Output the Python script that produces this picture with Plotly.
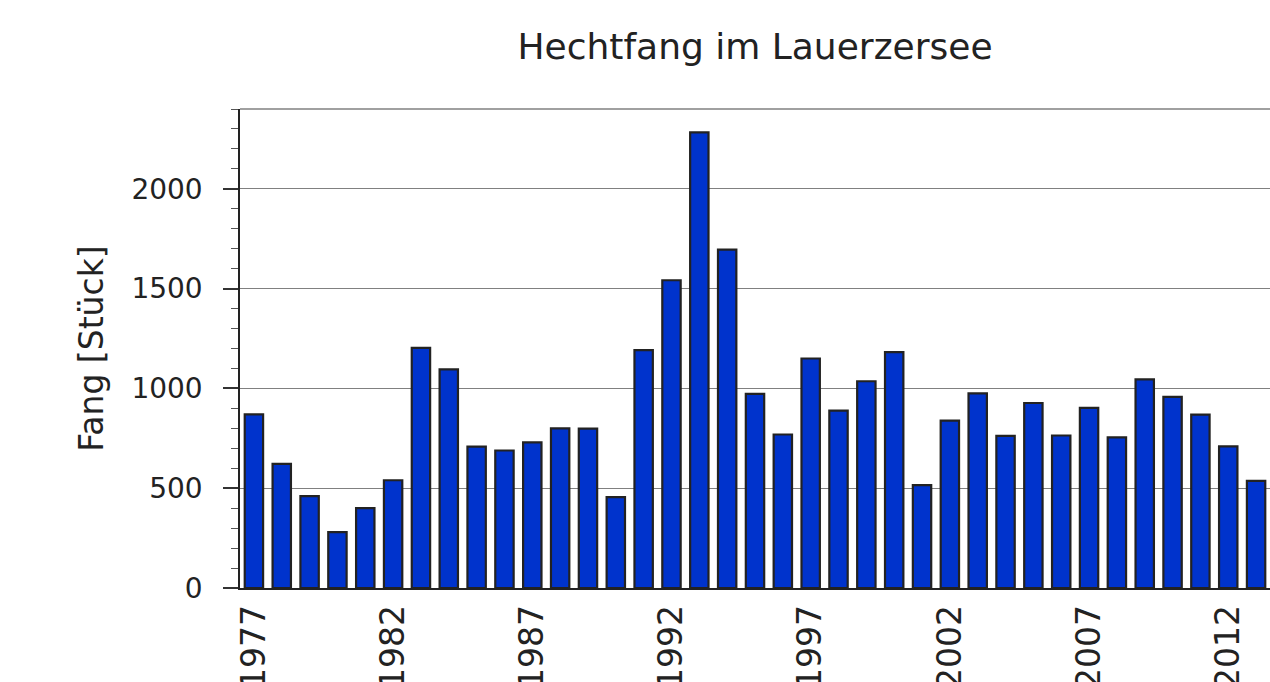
import plotly.graph_objects as go

years = list(range(1977, 2014))
catch = [870, 622, 460, 280, 400, 540, 1203, 1095, 708, 689, 730, 800, 799,
         455, 1192, 1542, 2283, 1695, 973, 769, 1150, 889, 1036, 1182, 515,
         839, 975, 762, 927, 764, 903, 755, 1045, 958, 869, 710, 537]

title_text = "Hechtfang im Lauerzersee"
y_title = "Fang [Stück]"
y_ticks = [0, 500, 1000, 1500, 2000]
x_ticks = list(range(1977, 2014, 5))

font_family = "DejaVu Sans"
text_color = "#222222"

W, H = 1270, 682

fig = go.Figure()
fig.add_trace(go.Bar(
    x=years, y=catch,
    marker=dict(color="#0033cc", line=dict(color="#222222", width=2.2)),
    hoverinfo="x+y",
))

fig.update_layout(
    width=W, height=H,
    margin=dict(l=240, r=0, t=109, b=94, autoexpand=False),
    paper_bgcolor="white", plot_bgcolor="white",
    bargap=0.34,
    showlegend=False,
    font=dict(family=font_family, color=text_color, size=26),
    title=dict(text=title_text, x=755 / W, xanchor="center",
               y=1 - 46 / H, yanchor="middle", automargin=False,
               font=dict(size=36, family=font_family, color=text_color)),
)

fig.update_xaxes(
    range=[1976.5, 2013.5],
    tickmode="array", tickvals=x_ticks, ticktext=[str(v) for v in x_ticks],
    tickangle=-90,
    ticks="", showgrid=False,
    showline=True, linecolor="#222222", linewidth=1.5,
    tickfont=dict(size=33, family=font_family, color=text_color),
    ticklabelstandoff=2,
    zeroline=False, automargin=False,
)

fig.update_yaxes(
    range=[0, 2400],
    tickmode="array", tickvals=y_ticks,
    ticks="outside", ticklen=15, tickwidth=1.5, tickcolor="#333333",
    minor=dict(dtick=100, tick0=0, ticks="outside", ticklen=7, tickwidth=1,
               tickcolor="#555555", showgrid=False),
    showgrid=True, gridcolor="#808080", gridwidth=1.2,
    showline=True, linecolor="#222222", linewidth=1.5,
    zeroline=False, automargin=False,
    tickfont=dict(size=28, family=font_family, color=text_color),
    ticklabelstandoff=15,
    title=dict(text=y_title, standoff=18,
               font=dict(size=33, family=font_family, color=text_color)),
)

# top frame line of the plot area
fig.add_shape(type="line", xref="paper", yref="y domain",
              x0=0, x1=1, y0=1, y1=1,
              line=dict(color="#808080", width=1.5))

fig.write_html(
    "out.html",
    config={"displayModeBar": False},
    post_script="document.body.style.margin='0';document.body.style.overflow='hidden';",
)
